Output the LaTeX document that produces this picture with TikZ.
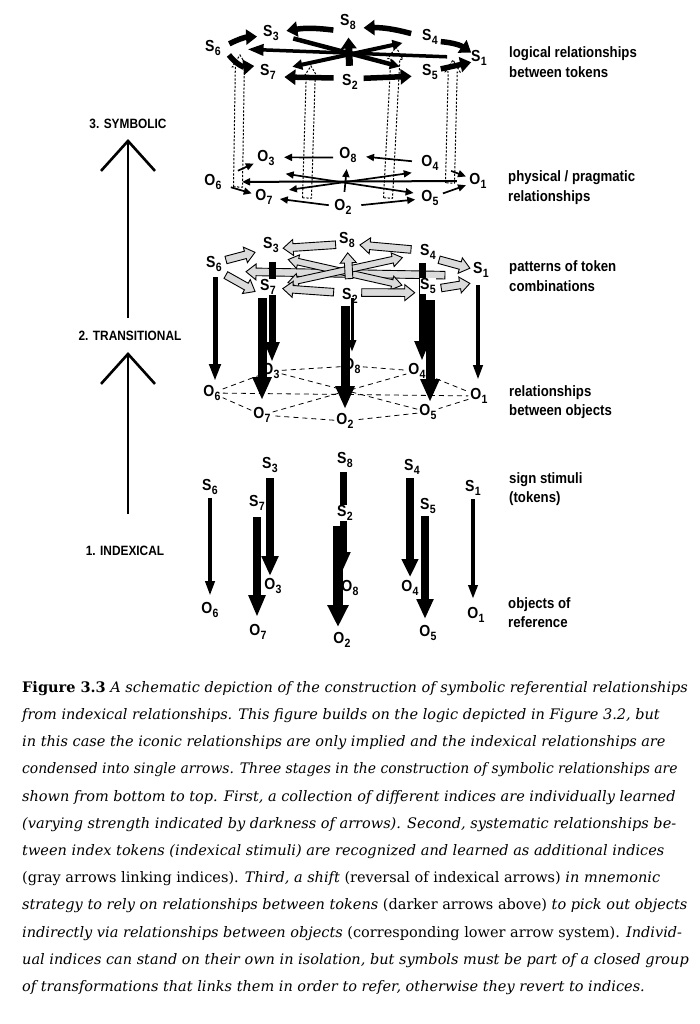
\documentclass[tikz,border=0pt]{standalone}
\usepackage{fontspec}
\setmainfont{DejaVu Serif}
\newfontfamily\cond[FakeStretch=0.88]{Liberation Sans}
\usetikzlibrary{arrows.meta,calc}
\newcommand{\tk}[2]{#1\kern0.3pt\raisebox{-3.6pt}{\fontsize{12}{12}\selectfont #2}}
% thick/thin line arrow between two named nodes, given fractions and y offsets
\newcommand{\tarr}[7]{\draw[#7] ($(#1)!#3!(#2)+(0,#5)$) to ($(#1)!#4!(#2)+(0,#6)$);}
% block arrow polygon: tail, tip, half shaft, half head, head length, style
\newcommand{\blockarrow}[6]{%
  \coordinate (bah) at ($(#2)!#5!(#1)$);
  \draw[#6] ($(#1)!#3!90:(#2)$) -- ($(bah)!#3!90:(#2)$) -- ($(bah)!#4!90:(#2)$) -- (#2)
    -- ($(bah)!#4!-90:(#2)$) -- ($(bah)!#3!-90:(#2)$) -- ($(#1)!#3!-90:(#2)$) -- cycle;}
\newcommand{\dblockarrow}[6]{%
  \coordinate (bah) at ($(#2)!#5!(#1)$);
  \coordinate (baz) at ($(#1)!#5!(#2)$);
  \draw[#6] ($(baz)!#3!90:(#2)$) -- ($(bah)!#3!90:(#2)$) -- ($(bah)!#4!90:(#2)$) -- (#2)
    -- ($(bah)!#4!-90:(#2)$) -- ($(bah)!#3!-90:(#2)$) -- ($(baz)!#3!-90:(#2)$)
    -- ($(baz)!#4!-90:(#2)$) -- (#1) -- ($(baz)!#4!90:(#2)$) -- cycle;}
% hollow (gray) arrows between named nodes
\newcommand{\harr}[6]{%
  \coordinate (ha0) at ($(#1)!#3!(#2)+(0,#5)$);
  \coordinate (ha1) at ($(#1)!#4!(#2)+(0,#6)$);
  \blockarrow{ha0}{ha1}{3.8pt}{8pt}{10pt}{hollow}}
\newcommand{\dharr}[6]{%
  \coordinate (ha0) at ($(#1)!#3!(#2)+(0,#5)$);
  \coordinate (ha1) at ($(#1)!#4!(#2)+(0,#6)$);
  \dblockarrow{ha0}{ha1}{3.3pt}{7pt}{10pt}{hollow}}
\begin{document}
\begin{tikzpicture}[x=1pt,y=-1pt,
  tok/.style={font=\cond\bfseries\fontsize{16}{16}\selectfont, inner sep=1pt},
  wtok/.style={tok, fill=white, inner sep=0.5pt},
  rlab/.style={font=\cond\bfseries\fontsize{15}{19.5}\selectfont, align=left, anchor=west, inner sep=0pt},
  llab/.style={font=\cond\bfseries\fontsize{13.5}{14}\selectfont, inner sep=1pt},
  fat/.style={line width=5.5pt, -{Triangle[width=15pt,length=11pt]}},
  oarr/.style={line width=1.7pt, -{Triangle[width=7pt,length=8pt]}},
  oarr2/.style={line width=1.7pt, {Triangle[width=7pt,length=8pt]}-{Triangle[width=7pt,length=8pt]}},
  dashrev/.style={dash pattern=on 2.2pt off 1.6pt, line width=1pt},
  hollow/.style={fill=gray!28, draw=black, line width=0.9pt, line join=miter},
  varr/.style n args={3}{line width=#1, -{Triangle[width=#2,length=#3]}},
  odash/.style={dash pattern=on 5pt off 4pt, line width=0.8pt, shorten <=1pt, shorten >=1pt},
  stage/.style={line width=2.6pt, -{Straight Barb[length=30pt,width=54pt]}},
]
\fill[white] (0,0) rectangle (700,1024);
\useasboundingbox (0,0) rectangle (700,1024);

% ================= LEVEL 3 : reversal dashed hollow arrows =================
\coordinate (r1a) at (238,187); \coordinate (r1b) at (240,55);
\coordinate (r2a) at (307,198); \coordinate (r2b) at (311,66);
\coordinate (r3a) at (388,198); \coordinate (r3b) at (396,47);
\coordinate (r4a) at (450,183); \coordinate (r4b) at (453,60);
\blockarrow{r1a}{r1b}{4.5pt}{7.5pt}{12pt}{dashrev}
\blockarrow{r2a}{r2b}{4.5pt}{7.5pt}{12pt}{dashrev}
\blockarrow{r3a}{r3b}{4.5pt}{7.5pt}{12pt}{dashrev}
\blockarrow{r4a}{r4b}{4.5pt}{7.5pt}{12pt}{dashrev}

% ================= LEVEL 3 : tokens =================
\node[tok] (tS6) at (213,48) {\tk{S}{6}};
\node[tok] (tS3) at (271,33) {\tk{S}{3}};
\node[tok] (tS8) at (348,22) {\tk{S}{8}};
\node[tok] (tS4) at (430,37) {\tk{S}{4}};
\node[tok] (tS1) at (479,58) {\tk{S}{1}};
\node[tok] (tS5) at (430,72) {\tk{S}{5}};
\node[tok] (tS2) at (350,82) {\tk{S}{2}};
\node[tok] (tS7) at (268,72) {\tk{S}{7}};

\tarr{tS1}{tS6}{.12}{.87}{0}{0}{line width=3.5pt,-{Triangle[width=11pt,length=16pt]}}
\tarr{tS3}{tS5}{.14}{.81}{0}{2}{line width=4.5pt,-{Triangle[width=10pt,length=10pt]}}
\tarr{tS7}{tS4}{.15}{.83}{0}{0}{line width=4pt,{Triangle[width=10pt,length=10pt]}-{Triangle[width=10pt,length=10pt]}}
\tarr{tS6}{tS3}{.28}{.76}{0}{0}{fat,bend left=12}
\tarr{tS6}{tS7}{.29}{.75}{0}{0}{fat,bend right=30}
\tarr{tS8}{tS3}{.19}{.8}{6}{0}{fat,bend right=8}
\tarr{tS4}{tS8}{.23}{.81}{0}{3}{fat,bend right=8}
\tarr{tS4}{tS1}{.22}{.84}{0}{-2}{fat,bend left=15}
\tarr{tS5}{tS1}{.22}{.84}{0}{2}{fat}
\tarr{tS2}{tS7}{.2}{.8}{-2}{3}{fat}
\tarr{tS2}{tS5}{.17}{.77}{-2}{2}{fat}
\tarr{tS2}{tS8}{.27}{.74}{0}{0}{fat,line width=7pt}

% ================= LEVEL 3 : physical objects =================
\node[tok] (tO6) at (213,182) {\tk{O}{6}};
\node[tok] (tO3) at (266,158) {\tk{O}{3}};
\node[tok] (tO8) at (348,155) {\tk{O}{8}};
\node[tok] (tO4) at (430,163) {\tk{O}{4}};
\node[tok] (tO1) at (478,181) {\tk{O}{1}};
\node[tok] (tO5) at (430,198) {\tk{O}{5}};
\node[tok] (tO2) at (343,207) {\tk{O}{2}};
\node[tok] (tO7) at (264,197) {\tk{O}{7}};

\tarr{tO1}{tO6}{.08}{.89}{0}{0}{oarr,line width=2pt}
\tarr{tO5}{tO3}{.1}{.88}{-1}{11}{oarr2}
\tarr{tO7}{tO4}{.15}{.89}{-2}{6}{oarr2}
\tarr{tO6}{tO3}{.47}{.77}{0}{0}{oarr}
\tarr{tO6}{tO7}{.35}{.76}{0}{0}{oarr}
\tarr{tO8}{tO3}{.18}{.78}{2}{0}{oarr}
\tarr{tO4}{tO8}{.22}{.78}{0}{0}{oarr}
\tarr{tO4}{tO1}{.44}{.75}{0}{0}{oarr}
\tarr{tO5}{tO1}{.27}{.75}{0}{0}{oarr}
\tarr{tO2}{tO7}{.18}{.8}{0}{0}{oarr}
\tarr{tO2}{tO5}{.21}{.83}{0}{0}{oarr}
\tarr{tO2}{tO8}{.29}{.73}{0}{0}{oarr}

% ================= LEVEL 2 : transitional =================
\node[tok] (mS6) at (214,264) {\tk{S}{6}};
\node[tok] (mS3) at (271,245) {\tk{S}{3}};
\node[tok] (mS8) at (347,240) {\tk{S}{8}};
\node[tok] (mS4) at (428,252) {\tk{S}{4}};
\node[tok] (mS1) at (481,270) {\tk{S}{1}};
\node[tok] (mS2) at (350,296) {\tk{S}{2}};

\node[tok] (mO6) at (212,393) {\tk{O}{6}};
\node[tok] (mO3) at (271,371) {\tk{O}{3}};
\node[tok] (mO8) at (352,366) {\tk{O}{8}};
\node[tok] (mO4) at (417,371) {\tk{O}{4}};
\node[tok] (mO1) at (479,396) {\tk{O}{1}};
\node[tok] (mO5) at (428,412) {\tk{O}{5}};
\node[tok] (mO2) at (345,421) {\tk{O}{2}};
\node[tok] (mO7) at (262,415) {\tk{O}{7}};

\draw[odash] (mO6) -- (mO3);
\draw[odash] (mO3) -- (mO8);
\draw[odash] (mO8) -- (mO4);
\draw[odash] (mO4) -- (mO1);
\draw[odash] (mO1) -- (mO5);
\draw[odash] (mO5) -- (mO2);
\draw[odash] (mO2) -- (mO7);
\draw[odash] (mO7) -- (mO6);
\draw[odash] (mO6) -- (mO1);
\draw[odash] (mO3) -- (mO5);
\draw[odash] (mO7) -- (mO4);

\draw[varr={3pt}{8pt}{12pt}] ($(mS8)+(5,58)$) -- ($(mO8)+(0,-14)$);

\coordinate (m7c) at (268,287);
\coordinate (m5c) at (428,286);
\harr{mS1}{mS6}{.135}{.88}{6}{7}
\dharr{m5c}{mS3}{.166}{.89}{6}{10}
\dharr{m7c}{mS4}{.125}{.84}{0}{0}
\harr{mS6}{mS3}{.21}{.72}{0}{2}
\harr{mS6}{m7c}{.22}{.76}{6}{10}
\harr{mS8}{mS3}{.15}{.84}{4}{4}
\harr{mS4}{mS8}{.21}{.84}{0}{3}
\harr{mS4}{mS1}{.21}{.79}{4}{2}
\harr{m5c}{mS1}{.25}{.79}{6}{10}
\harr{mS2}{m7c}{.2}{.82}{-2}{0}
\harr{mS2}{m5c}{.15}{.83}{-2}{5}
\harr{mS2}{mS8}{.31}{.77}{0}{0}

\draw[varr={5pt}{11pt}{17pt}] ($(mS6)+(1,13)$) -- ($(mO6)+(3,-12)$);
\draw[varr={7pt}{14pt}{20pt}] ($(mS3)+(1,17)$) -- ($(mO3)+(1,-9)$);
\draw[varr={9pt}{18pt}{23pt}] ($(m7c)+(-6,11)$) -- ($(mO7)+(0,-15)$);
\draw[varr={9pt}{18pt}{23pt}] ($(mS2)+(-5,10)$) -- ($(mO2)+(0,-12)$);
\draw[varr={7pt}{14pt}{20pt}] ($(mS4)+(-6,11)$) -- ($(mO4)+(5,-10)$);
\draw[varr={9pt}{18pt}{23pt}] ($(m5c)+(2,14)$) -- ($(mO5)+(2,-10)$);
\draw[varr={4pt}{9pt}{15pt}] ($(mS1)+(-3,15)$) -- ($(mO1)+(-1,-16)$);
\node[wtok] (mS7) at (m7c) {\tk{S}{7}};
\node[wtok] (mS5) at (m5c) {\tk{S}{5}};

% ================= LEVEL 1 : indexical =================
\node[tok] (iS6) at (210,487) {\tk{S}{6}};
\node[tok] (iS3) at (270,465) {\tk{S}{3}};
\node[tok] (iS8) at (345,460) {\tk{S}{8}};
\node[tok] (iS4) at (412,467) {\tk{S}{4}};
\node[tok] (iS1) at (473,488) {\tk{S}{1}};
\node[tok] (iS5) at (428,506) {\tk{S}{5}};
\node[tok] (iS7) at (257,503) {\tk{S}{7}};

\node[tok] (iO6) at (210,610) {\tk{O}{6}};
\node[tok] (iO3) at (273,586) {\tk{O}{3}};
\node[tok] (iO8) at (350,588) {\tk{O}{8}};
\node[tok] (iO4) at (410,588) {\tk{O}{4}};
\node[tok] (iO1) at (476,615) {\tk{O}{1}};
\node[tok] (iO5) at (428,633) {\tk{O}{5}};
\node[tok] (iO2) at (342,640) {\tk{O}{2}};
\node[tok] (iO7) at (258,632) {\tk{O}{7}};

\draw[varr={4pt}{9pt}{15pt}] ($(iS6)+(0,11)$) -- ($(iO6)+(0,-14)$);
\draw[varr={8pt}{16pt}{20pt}] ($(iS3)+(0,13)$) -- ($(iO3)+(-3,-10)$);
\draw[varr={8pt}{16pt}{22pt}] ($(iS7)+(0,14)$) -- ($(iO7)+(-1,-15)$);
\draw[varr={7pt}{14pt}{18pt}] ($(iS8)+(-2,12)$) -- ($(iO8)+(-7,-18)$);
\node[wtok] (iS2) at (345,513) {\tk{S}{2}};
\draw[varr={10pt}{20pt}{22pt}] ($(iS2)+(-7,13)$) -- ($(iO2)+(-4,-13)$);
\draw[varr={8pt}{16pt}{18pt}] ($(iS4)+(-2,11)$) -- ($(iO4)+(0,-11)$);
\draw[varr={8pt}{16pt}{20pt}] ($(iS5)+(-3,10)$) -- ($(iO5)+(-3,-14)$);
\draw[varr={4pt}{9pt}{14pt}] ($(iS1)+(0,11)$) -- ($(iO1)+(-3,-16)$);

% ================= stage labels =================
\node[llab] (st3) at (128,124) {3. SYMBOLIC};
\node[llab] (st2) at (130,336) {2. TRANSITIONAL};
\node[llab] (st1) at (125,551) {1. INDEXICAL};
\draw[stage, shorten <=12pt, shorten >=9pt] (st2.north -| st3.south) -- (st3.south);
\draw[stage, shorten <=31pt, shorten >=10pt] (st1.north -| st3.south) -- (st2.south -| st3.south);

% ================= right labels =================
\node[rlab] (d1) at (509,62) {logical relationships\\between tokens};
\node[rlab] (d2) at (508,187.5) {physical / pragmatic\\relationships};
\node[rlab] (d3) at (509,276) {patterns of token\\combinations};
\node[rlab] (d4) at (509,402) {relationships\\between objects};
\node[rlab] (d5) at (509,489) {sign stimuli\\(tokens)};
\node[rlab] (d6) at (508,612.5) {objects of\\reference};

% ================= caption =================
\node[anchor=north west, align=left, inner sep=0pt, font=\fontsize{14.5}{27.2}\selectfont] (cap) at (22,681) {%
\textbf{Figure 3.3} \textit{A schematic depiction of the construction of symbolic referential relationships}\\
\textit{from indexical relationships. This figure builds on the logic depicted in Figure 3.2, but}\\
\textit{in this case the iconic relationships are only implied and the indexical relationships are}\\
\scalebox{0.96}[1]{\textit{condensed into single arrows. Three stages in the construction of symbolic relationships are}}\\
\textit{shown from bottom to top. First, a collection of different indices are individually learned}\\
\textit{(varying strength indicated by darkness of arrows). Second, systematic relationships be-}\\
\textit{tween index tokens (indexical stimuli) are recognized and learned as additional indices}\\
(gray arrows linking indices). \textit{Third, a shift} (reversal of indexical arrows) \textit{in mnemonic}\\
\textit{strategy to rely on relationships between tokens} (darker arrows above) \textit{to pick out objects}\\
\textit{indirectly via relationships between objects} (corresponding lower arrow system). \textit{Individ-}\\
\textit{ual indices can stand on their own in isolation, but symbols must be part of a closed group}\\
\textit{of transformations that links them in order to refer, otherwise they revert to indices.}};
\end{tikzpicture}
\end{document}
